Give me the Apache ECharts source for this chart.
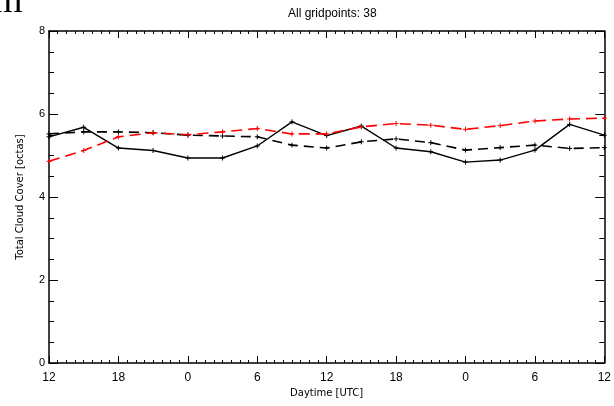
<!DOCTYPE html>
<html>
<head>
<meta charset="utf-8">
<script src="https://cdn.jsdelivr.net/npm/echarts@6/dist/echarts.min.js"></script>
<style>
html,body{margin:0;padding:0;background:#fff;}
#chart{width:614px;height:406px;}
</style>
</head>
<body>
<div id="chart"></div>
<script>
// Hours since start (3-hourly), tick labels (UTC hour of day)
var hours = [0,3,6,9,12,15,18,21,24,27,30,33,36,39,42,45,48];
var xTickLabels = ['12','18','0','6','12','18','0','6','12'];
var yTickLabels = ['0','2','4','6','8'];
var solidBlack = [5.45,5.68,5.18,5.12,4.94,4.94,5.23,5.81,5.48,5.71,5.18,5.09,4.84,4.89,5.13,5.75,5.49];
var dashedBlack = [5.52,5.57,5.57,5.55,5.49,5.47,5.45,5.25,5.18,5.33,5.40,5.31,5.13,5.19,5.25,5.17,5.19];
var dashedRed = [4.86,5.12,5.45,5.55,5.50,5.57,5.65,5.52,5.52,5.69,5.77,5.73,5.63,5.72,5.83,5.88,5.90];
var titleText = 'All gridpoints: 38';
var xName = 'Daytime [UTC]';
var yName = 'Total Cloud Cover [octas]';

function pairs(vals){ return hours.map(function(h,i){ return [h, vals[i]]; }); }
var plus = 'path://M0,5L10,5M5,0L5,10';
var FONT = 'Liberation Sans';
var NFONT = 'DejaVu Sans';

var chart = echarts.init(document.getElementById('chart'), null, {renderer:'canvas'});
var axisCommon = {
  axisLine:{show:true, onZero:false, lineStyle:{color:'#000', width:1.5}},
  splitLine:{show:false}
};
chart.setOption({
  animation:false,
  backgroundColor:'#fff',
  title:{text:titleText, left:283, top:3,
    textStyle:{fontFamily:FONT, fontSize:12, fontWeight:'normal', color:'#000'}},
  grid:{left:49, right:8, top:31, bottom:43, containLabel:false},
  graphic:[{type:'text', left:-7, top:-17,
    style:{text:'m', fontFamily:'Liberation Serif', fontSize:38, fill:'#000'}}],
  xAxis:[
    Object.assign({type:'value', min:0, max:48, interval:6, position:'bottom',
      name:xName, nameLocation:'middle', nameGap:24,
      nameTextStyle:{fontFamily:NFONT, fontSize:10, color:'#000'},
      axisTick:{show:true, inside:true, length:7, lineStyle:{color:'#000', width:1}},
      minorTick:{show:true, splitNumber:8, length:3, lineStyle:{color:'#000', width:1}},
      axisLabel:{show:true, margin:9, fontFamily:FONT, fontSize:12, color:'#000',
        formatter:function(v){ return xTickLabels[Math.round(v/6)]; }}
    }, axisCommon),
    Object.assign({type:'value', min:0, max:48, interval:6, position:'top',
      axisTick:{show:true, inside:true, length:7, lineStyle:{color:'#000', width:1}},
      minorTick:{show:true, splitNumber:8, length:3, lineStyle:{color:'#000', width:1}},
      axisLabel:{show:false}
    }, axisCommon)
  ],
  yAxis:[
    Object.assign({type:'value', min:0, max:8, interval:2, position:'left',
      name:yName, nameLocation:'middle', nameGap:24,
      nameTextStyle:{fontFamily:NFONT, fontSize:10, color:'#000'},
      axisTick:{show:true, inside:true, length:9, lineStyle:{color:'#000', width:1}},
      minorTick:{show:true, splitNumber:4, length:5, lineStyle:{color:'#000', width:1}},
      axisLabel:{show:true, margin:4, fontFamily:FONT, fontSize:11, color:'#000',
        formatter:function(v){ return yTickLabels[Math.round(v/2)]; }}
    }, axisCommon),
    Object.assign({type:'value', min:0, max:8, interval:2, position:'right',
      axisTick:{show:true, inside:true, length:9, lineStyle:{color:'#000', width:1}},
      minorTick:{show:true, splitNumber:4, length:5, lineStyle:{color:'#000', width:1}},
      axisLabel:{show:false}
    }, axisCommon)
  ],
  series:[
    {type:'line', name:'dashedBlack', data:pairs(dashedBlack), symbol:plus, symbolSize:5,
      lineStyle:{color:'#000', width:1.6, type:[10,6]}, itemStyle:{color:'#000', borderColor:'#000', borderWidth:1}},
    {type:'line', name:'solidBlack', data:pairs(solidBlack), symbol:plus, symbolSize:5,
      lineStyle:{color:'#000', width:1.4, type:'solid'}, itemStyle:{color:'#000', borderColor:'#000', borderWidth:1}},
    {type:'line', name:'dashedRed', data:pairs(dashedRed), symbol:plus, symbolSize:5,
      lineStyle:{color:'#ff0000', width:1.6, type:[11,6]}, itemStyle:{color:'#ff0000', borderColor:'#ff0000', borderWidth:1}}
  ]
});
</script>
</body>
</html>
